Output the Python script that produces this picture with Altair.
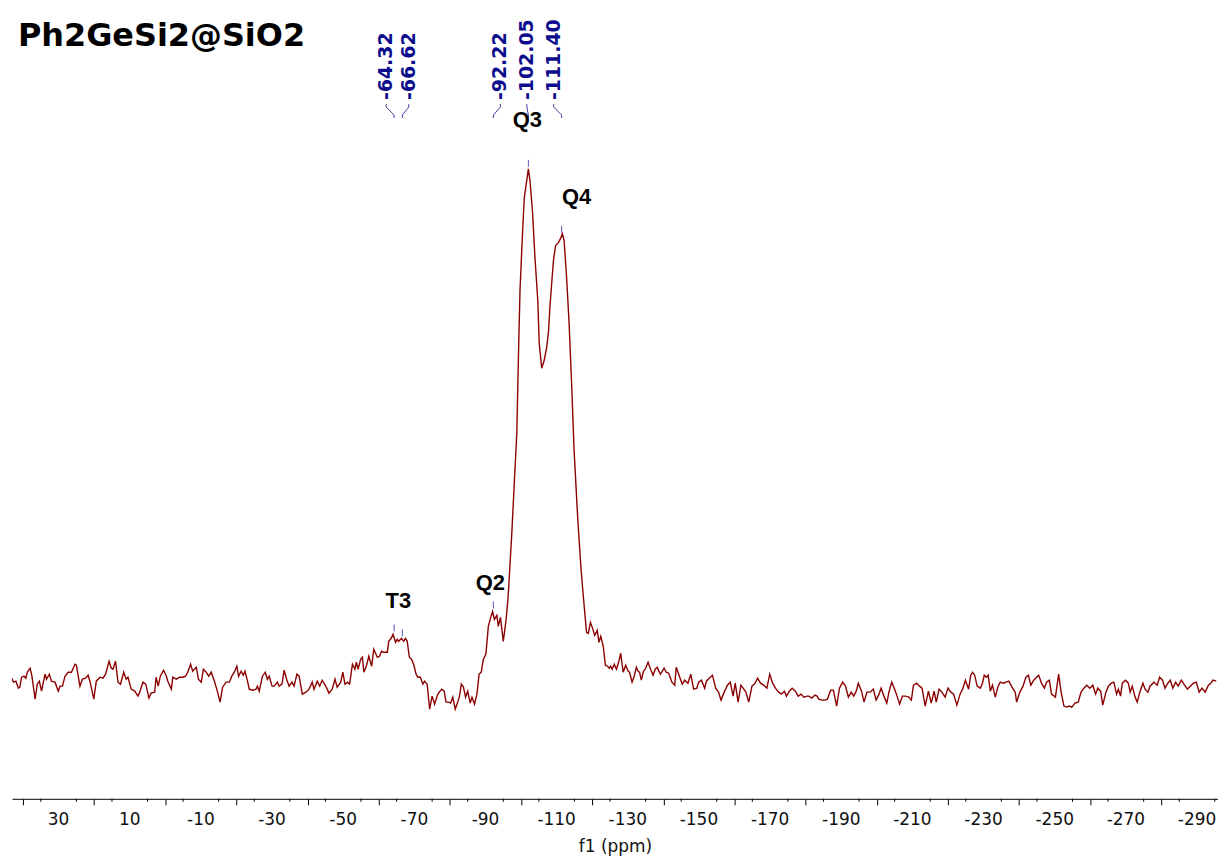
import altair as alt
import pandas as pd

# ---------------- spectrum (29Si, ppm vs. intensity, arbitrary units) ----------------
ppm_a = [43.1, 42.7, 42.0, 41.3, 40.9, 40.4, 39.7, 39.2, 38.8, 38.0,
         37.5, 36.6, 36.0, 35.4, 34.8, 33.8, 33.4, 32.6, 32.0, 31.0,
         30.1, 29.6, 28.9, 28.2, 27.3, 26.4, 25.4, 25.0, 24.0, 23.3,
         22.4, 21.7, 21.2, 20.1, 19.4, 18.4, 17.5, 16.8, 15.8, 15.2,
         14.7, 14.0, 13.3, 12.6, 11.7, 11.0, 10.5, 9.6, 8.6, 7.7,
         7.2, 6.3, 5.5, 4.6, 4.0, 3.0, 2.6, 2.0, 1.4, 0.5,
         -0.3, -0.7, -1.7, -2.1, -3.1, -4.0, -4.9, -5.7, -6.3, -7.1,
         -7.7, -8.7, -9.3, -10.1, -10.7, -11.5, -12.2, -12.9, -13.8, -14.7,
         -15.4, -16.1, -17.1, -18.0, -18.7, -19.4, -20.1, -20.6, -21.3, -21.9,
         -22.4, -23.1, -23.6, -24.5, -25.5, -25.9, -26.4, -27.3, -28.1, -28.7,
         -29.2, -30.0, -30.6, -31.5, -32.0, -32.8, -33.4, -34.1, -34.8, -35.6,
         -36.2, -37.0, -37.6, -38.5, -39.5, -40.4, -41.3, -41.8, -42.7, -43.4,
         -44.1, -45.1]
int_a = [21, 17, 18, 11, 12, 22, 23, 21, 27, 31,
         23, 0, 15, 18, 8, 25, 20, 25, 18, 17,
         8, 13, 13, 23, 27, 27, 35, 34, 13, 20,
         21, 24, 18, 0, 18, 22, 21, 25, 38, 31,
         30, 38, 17, 15, 27, 20, 22, 10, 8, 3,
         7, 17, 15, 1, 6, 7, 22, 13, 23, 29,
         23, 18, 10, 22, 20, 22, 22, 23, 27, 35,
         28, 32, 20, 17, 30, 27, 23, 27, 18, 7,
         -3, 12, 17, 17, 23, 27, 33, 23, 28, 24,
         28, 18, 10, 9, 10, 13, 8, 23, 27, 20,
         23, 13, 13, 17, 13, 15, 29, 20, 13, 17,
         13, 25, 23, 5, 7, 10, 17, 10, 18, 13,
         19, 13]

ppm_b = [-46.0, -46.9, -47.7, -48.3, -49.3, -49.9, -50.5, -51.2, -51.8, -52.6,
         -53.3, -53.7, -54.2, -54.9, -55.4, -55.8, -56.5, -57.2, -58.0, -58.6,
         -59.6, -60.2, -60.8, -61.4, -62.4, -62.8, -63.5, -64.0, -64.7, -65.2,
         -65.6, -66.4, -67.0, -67.5, -68.0, -68.6, -69.2, -69.8, -70.5, -71.0]
int_b = [6, 10, 20, 12, 17, 27, 15, 17, 15, 35,
         30, 37, 30, 40, 42, 27, 33, 43, 33, 50,
         42, 43, 48, 47, 47, 58, 61, 65, 57, 60,
         58, 61, 58, 61, 58, 42, 40, 35, 25, 22]

ppm_c = [-71.7, -72.4, -72.9, -73.6, -74.3, -75.0, -75.7, -76.5, -77.0, -77.7,
         -78.4, -78.9, -79.6, -80.2, -80.8, -81.5, -82.1, -82.7, -83.2, -83.8,
         -84.4, -85.0, -85.7, -86.2, -86.9, -87.6, -88.2, -88.8, -89.4, -90.1,
         -90.8, -91.3, -92.0, -92.5, -93.2, -93.6, -94.2, -95.0, -95.8, -96.3,
         -96.6, -97.4, -98.1, -98.8, -99.3, -99.7, -100.4, -100.9, -101.3, -102.05,
         -102.5, -103.2, -103.9, -104.7, -105.1, -105.8, -106.5, -107.2, -107.7, -108.1,
         -108.6, -109.1, -109.7, -110.5, -111.2, -111.6, -112.1, -112.8, -113.5, -114.2,
         -114.9, -115.9, -116.8, -117.5, -118.4, -118.9, -119.5, -120.1, -120.7, -121.4,
         -121.9, -122.4, -123.1, -123.7, -124.3, -124.8, -125.2, -125.6, -126.2, -126.8,
         -127.5, -128.0, -128.7, -129.4, -130.1, -130.5, -131.2, -131.8, -132.4, -132.9,
         -133.3, -133.8, -134.4, -134.9, -135.7, -136.4, -137.1, -137.7, -138.3, -138.7,
         -139.2, -140.2, -140.8, -141.5, -142.4, -143.2, -143.6]
int_c = [22, 15, 18, 15, -10, 3, -5, 4, 7, 10,
         8, -3, -3, -4, 2, -10, -4, 3, 15, 12,
         2, 8, -4, 2, -5, 5, 25, 27, 40, 45,
         73, 80, 88, 80, 84, 73, 82, 58, 80, 100,
         117, 167, 217, 267, 350, 410, 467, 503, 513, 532,
         520, 490, 443, 400, 357, 332, 340, 353, 368, 393,
         417, 440, 455, 458, 463, 467, 460, 423, 377, 317,
         250, 183, 133, 103, 67, 66, 77, 71, 64, 69,
         57, 63, 53, 34, 33, 31, 33, 30, 35, 30,
         38, 46, 27, 34, 28, 27, 17, 23, 32, 28,
         27, 19, 28, 30, 37, 30, 24, 30, 32, 28,
         25, 31, 27, 26, 17, 14, 32]

ppm_d = [-144.0, -144.7, -145.3, -146.0, -146.9, -147.7, -148.5, -149.4, -149.9, -150.7,
         -151.6, -152.1, -152.9, -153.8, -154.7, -155.5, -156.2, -157.1, -158.0, -158.8,
         -159.6, -160.2, -161.0, -161.8, -162.4, -163.2, -164.0, -164.9, -165.8, -166.5,
         -167.3, -168.2, -169.1, -169.9, -170.7, -171.5, -172.4, -173.2, -174.0, -174.6,
         -175.4, -176.2, -177.1, -177.9, -178.7, -179.5, -180.4, -180.9, -181.7, -182.6,
         -183.2, -183.7, -184.6, -185.4, -186.1, -187.0, -187.8, -188.7, -189.5, -190.4,
         -191.2, -192.0, -192.8, -193.5, -194.2, -194.8, -195.7, -196.4, -197.2, -198.1,
         -199.0, -199.8, -200.5, -201.2, -202.0, -202.8, -203.4, -204.2, -205.0, -205.6,
         -206.4, -207.2, -208.1, -209.0, -209.7, -210.3, -211.2, -212.0, -212.7, -213.6,
         -214.5, -215.3, -216.1, -216.7, -217.5, -218.3, -219.2, -220.0, -220.8, -221.6,
         -222.5, -223.4, -224.1, -224.9, -225.8, -226.4, -226.9, -227.5, -228.2, -229.1,
         -229.7, -230.2, -230.8, -231.3, -231.9, -232.5, -233.3, -234.1, -234.7, -235.6,
         -236.3, -237.1, -238.0, -238.9, -239.3, -240.2, -241.1, -241.9, -242.6, -243.3,
         -244.1, -244.9, -245.5, -246.3, -247.1, -247.7, -248.5, -249.1, -250.2, -251.1,
         -251.8, -252.6, -253.3, -254.1, -254.8, -255.7, -256.6, -257.4, -258.2, -259.0,
         -259.9, -260.7, -261.5, -262.1, -262.9, -263.5, -264.4, -265.1, -265.9, -266.6,
         -267.4, -267.9, -268.5, -269.0, -269.9, -270.7, -271.2, -271.8, -272.6, -273.2,
         -274.0, -274.8, -275.4, -276.2, -276.8, -277.9, -278.8, -279.5, -280.3, -281.0,
         -281.8, -282.5, -283.2, -284.0, -284.7, -285.6, -286.5, -287.3, -288.1, -289.0,
         -289.8, -290.6, -291.4, -292.3, -293.2, -293.9, -294.5, -295.4]
int_d = [28, 21, 15, 19, 16, 25, 10, 11, 17, 19,
         11, 18, 21, 24, 11, 7, -1, 7, 14, 17,
         3, 16, -3, 14, 11, 7, -3, 13, 16, 21,
         16, 14, 11, 25, 16, 11, 7, 5, 8, 3,
         8, 11, 8, 3, 5, 2, 3, 3, 1, 4,
         3, 0, -1, -1, 0, 9, 9, -7, 11, 17,
         13, 2, 7, 3, 8, 16, 8, -3, 7, 7,
         10, -1, 4, 11, 3, -4, 7, 17, 10, 4,
         -5, 3, 3, 2, -1, 14, 16, 13, 11, -7,
         8, -4, 8, -3, 10, 7, 2, 11, 7, 5,
         -6, 5, 10, 19, 10, 24, 27, 24, 13, 11,
         16, 24, 22, 24, 8, 14, 2, 13, 17, 16,
         17, 18, 12, 7, -3, 7, 13, 22, 24, 14,
         19, 22, 24, 16, 11, 17, 19, 5, 2, 25,
         7, -7, -8, -7, -8, -4, -3, 7, 11, 14,
         11, 14, 5, 11, 8, -6, 7, 13, 16, 17,
         5, 10, 3, 16, 19, 16, 7, 13, 2, -3,
         8, 16, 10, 7, 13, 17, 14, 22, 19, 11,
         16, 19, 11, 17, 13, 19, 14, 10, 13, 16,
         17, 7, 11, 7, 14, 16, 19, 18]

# ---------------- peak picking ----------------
peak_ppm = [-64.32, -66.62, -92.22, -102.05, -111.40]
peak_text = ["-64.32", "-66.62", "-92.22", "-102.05", "-111.40"]
peak_top = [68, 63, 91, 534, 468]          # intensity where the pick mark starts

# ---------------- assignments ----------------
group_names = ["T3", "Q2", "Q3", "Q4"]
group_ppm = [-65.5, -92.22, -102.05, -111.40]
group_top = [65, 88, 532, 467]

# ---------------- axis ----------------
tick_label_vals = [30, 10, -10, -30, -50, -70, -90, -110, -130, -150, -170,
                   -190, -210, -230, -250, -270, -290]
tick_label_text = ["30", "10", "-10", "-30", "-50", "-70", "-90", "-110", "-130",
                   "-150", "-170", "-190", "-210", "-230", "-250", "-270", "-290"]
major_vals = list(range(40, -300, -10))
minor_vals = [v for v in range(40, -300, -5) if v % 10 != 0]

title_text = "Ph2GeSi2@SiO2"

# ---------------- layout constants ----------------
W, H = 1210, 792
X_DOMAIN = [43.1, -295.9]
Y_DOMAIN = [-100, 692]
PPM_PER_PX = (X_DOMAIN[0] - X_DOMAIN[1]) / W
INT_PER_PX = (Y_DOMAIN[1] - Y_DOMAIN[0]) / H
label_dx_px = [-8, 6.5, 7, -1.5, -8]        # horizontal shift of the pick labels
group_dx_px = [0, -3, -1, 15]
group_dy_px = [21, 16, 37, 25]
LABEL_BASE_PX = 99                           # distance from top of page to label start
NAVY = "#0c0c8c"
RED = "#8b0000"
TXT = "#111111"

ppm = ppm_a + ppm_b + ppm_c + ppm_d
inten = int_a + int_b + int_c + int_d
assert len(ppm) == len(inten), (len(ppm), len(inten))
spec = pd.DataFrame({"ppm": ppm, "intensity": inten, "idx": range(len(ppm))})

xs = alt.Scale(domain=X_DOMAIN, nice=False, zero=False)
ys = alt.Scale(domain=Y_DOMAIN, nice=False, zero=False)


def y_from_top(px):
    return Y_DOMAIN[1] - (px - 8) * INT_PER_PX


x_axis = alt.Axis(values=major_vals, tickSize=6, tickColor="black", tickWidth=1,
                  domainColor="black", domainWidth=1, grid=False, labels=False,
                  title="f1 (ppm)", titleFont="DejaVu Sans", titleFontSize=17,
                  titleFontWeight="normal", titleColor=TXT, titlePadding=33)

line = alt.Chart(spec).mark_line(color=RED, strokeWidth=1.4, clip=True).encode(
    x=alt.X("ppm:Q", scale=xs, axis=x_axis),
    y=alt.Y("intensity:Q", scale=ys, axis=None),
    order=alt.Order("idx:Q"),
)

minor = alt.Chart(pd.DataFrame({"ppm": minor_vals})).mark_rule(color="black", strokeWidth=1).encode(
    x=alt.X("ppm:Q", scale=xs),
    y=alt.value(H), y2=alt.value(H + 3),
)

tick_labels = alt.Chart(pd.DataFrame({"v": tick_label_vals, "t": tick_label_text})).mark_text(
    align="center", baseline="top", font="DejaVu Sans", fontSize=17, color=TXT).encode(
    x=alt.X("v:Q", scale=xs), y=alt.value(H + 13), text="t:N")

# pick marks
pk = pd.DataFrame({"ppm": peak_ppm, "text": peak_text, "top": peak_top})
pk["top2"] = pk["top"] + 7
pk["label_ppm"] = [p - d * PPM_PER_PX for p, d in zip(peak_ppm, label_dx_px)]
pk["label_y"] = y_from_top(LABEL_BASE_PX)

pick_marks = alt.Chart(pk).mark_rule(color="#5555cc", strokeWidth=1).encode(
    x=alt.X("ppm:Q", scale=xs), y=alt.Y("top:Q", scale=ys), y2="top2:Q")

pick_labels = alt.Chart(pk).mark_text(
    angle=270, align="left", baseline="middle", font="DejaVu Sans",
    fontWeight="bold", fontSize=19, color=NAVY).encode(
    x=alt.X("label_ppm:Q", scale=xs), y=alt.Y("label_y:Q", scale=ys), text="text:N")

conn_rows = []
for i, (p, lp) in enumerate(zip(peak_ppm, pk["label_ppm"])):
    for k, (xx, py) in enumerate([(lp, 103), (lp, 106), (p, 114), (p, 117)]):
        conn_rows.append({"id": i, "k": k, "ppm": xx, "y": y_from_top(py)})
conn = pd.DataFrame(conn_rows)
connectors = alt.Chart(conn).mark_line(color="#2a2a99", strokeWidth=0.9).encode(
    x=alt.X("ppm:Q", scale=xs), y=alt.Y("y:Q", scale=ys),
    detail="id:N", order="k:Q")

grp = pd.DataFrame({"name": group_names, "ppm": group_ppm, "top": group_top})
grp["x"] = [p - d * PPM_PER_PX for p, d in zip(group_ppm, group_dx_px)]
grp["y"] = [t + d * INT_PER_PX for t, d in zip(group_top, group_dy_px)]
group_labels = alt.Chart(grp).mark_text(
    align="center", baseline="bottom", font="Liberation Sans", fontWeight="bold",
    fontSize=22, color="black").encode(
    x=alt.X("x:Q", scale=xs), y=alt.Y("y:Q", scale=ys), text="name:N")

title = alt.Chart(pd.DataFrame({"t": [title_text]})).mark_text(
    align="left", baseline="alphabetic", font="DejaVu Sans", fontWeight="bold",
    fontSize=32, color="black").encode(
    x=alt.value(6), y=alt.value(37), text="t:N")

chart = alt.layer(line, minor, tick_labels, pick_marks, connectors, pick_labels,
                  group_labels, title).properties(
    width=W, height=H,
    autosize=alt.AutoSizeParams(type="none"),
    padding={"left": 4, "top": 0, "right": 0, "bottom": 58},
).configure_view(stroke=None)

chart.save("out.html", embed_options={"renderer": "svg", "actions": False})
